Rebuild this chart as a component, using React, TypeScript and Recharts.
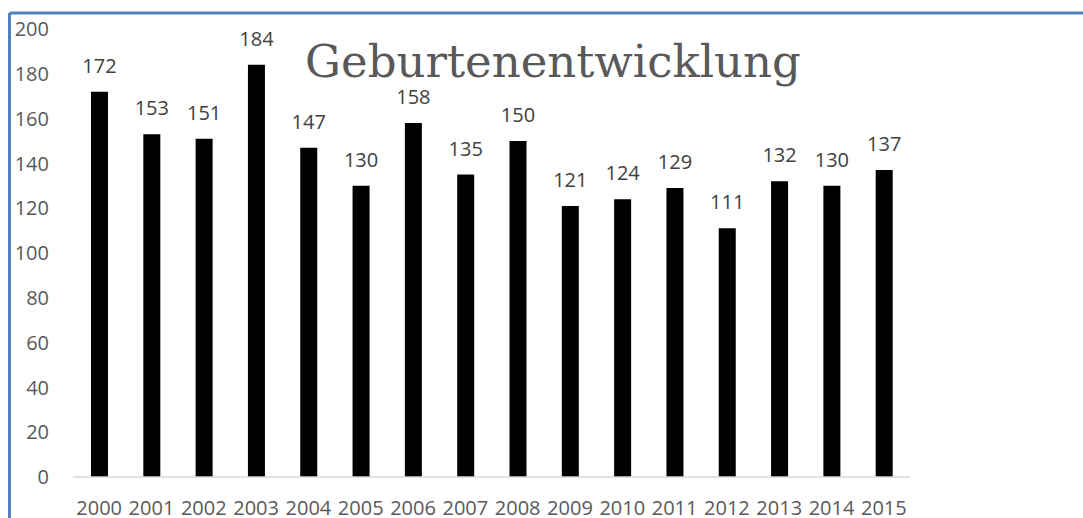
import React from 'react';
import { BarChart, Bar, XAxis, YAxis, LabelList } from 'recharts';

const years = ['2000', '2001', '2002', '2003', '2004', '2005', '2006', '2007', '2008', '2009', '2010', '2011', '2012', '2013', '2014', '2015'];
const births = [172, 153, 151, 184, 147, 130, 158, 135, 150, 121, 124, 129, 111, 132, 130, 137];
const yTicks = [0, 20, 40, 60, 80, 100, 120, 140, 160, 180, 200];
const title = 'Geburtenentwicklung';

const data = years.map((year, i) => ({ year, births: births[i] }));

const font = '"Open Sans", sans-serif';

const App: React.FC = () => {
  return (
    <div style={{ position: 'absolute', left: 0, top: 0, width: 1083, height: 518, background: '#fff' }}>
      <BarChart
        width={1083}
        height={518}
        data={data}
        margin={{ top: 29, right: 173, bottom: 0, left: 0 }}
        barCategoryGap={0}
      >
        <XAxis
          dataKey="year"
          height={41}
          interval={0}
          tickLine={false}
          axisLine={{ stroke: '#d9d9d9', strokeWidth: 1.5 }}
          tickSize={6}
          tickMargin={18}
          tick={{ fill: '#595959', fontSize: 20, fontFamily: font }}
        />
        <YAxis
          width={73}
          domain={[0, 200]}
          ticks={yTicks}
          interval={0}
          axisLine={false}
          tickLine={false}
          tickSize={6}
          tickMargin={18}
          tick={{ fill: '#595959', fontSize: 20, fontFamily: font }}
        />
        <Bar dataKey="births" fill="#000000" barSize={17} isAnimationActive={false}>
          <LabelList
            dataKey="births"
            position="top"
            offset={19}
            fill="#404040"
            fontSize={20}
            fontFamily={font}
          />
        </Bar>
      </BarChart>
      <svg width={1083} height={518} style={{ position: 'absolute', left: 0, top: 0, pointerEvents: 'none' }}>
        <text x={553} y={77} textAnchor="middle" fill="#595959" fontSize={45} fontFamily='"DejaVu Serif", serif'>
          {title}
        </text>
        <line x1={9.5} y1={13} x2={1083} y2={13} stroke="#4f81bd" strokeWidth={3} />
        <line x1={9.5} y1={13} x2={9.5} y2={518} stroke="#4f81bd" strokeWidth={3} />
      </svg>
    </div>
  );
};

export default App;
